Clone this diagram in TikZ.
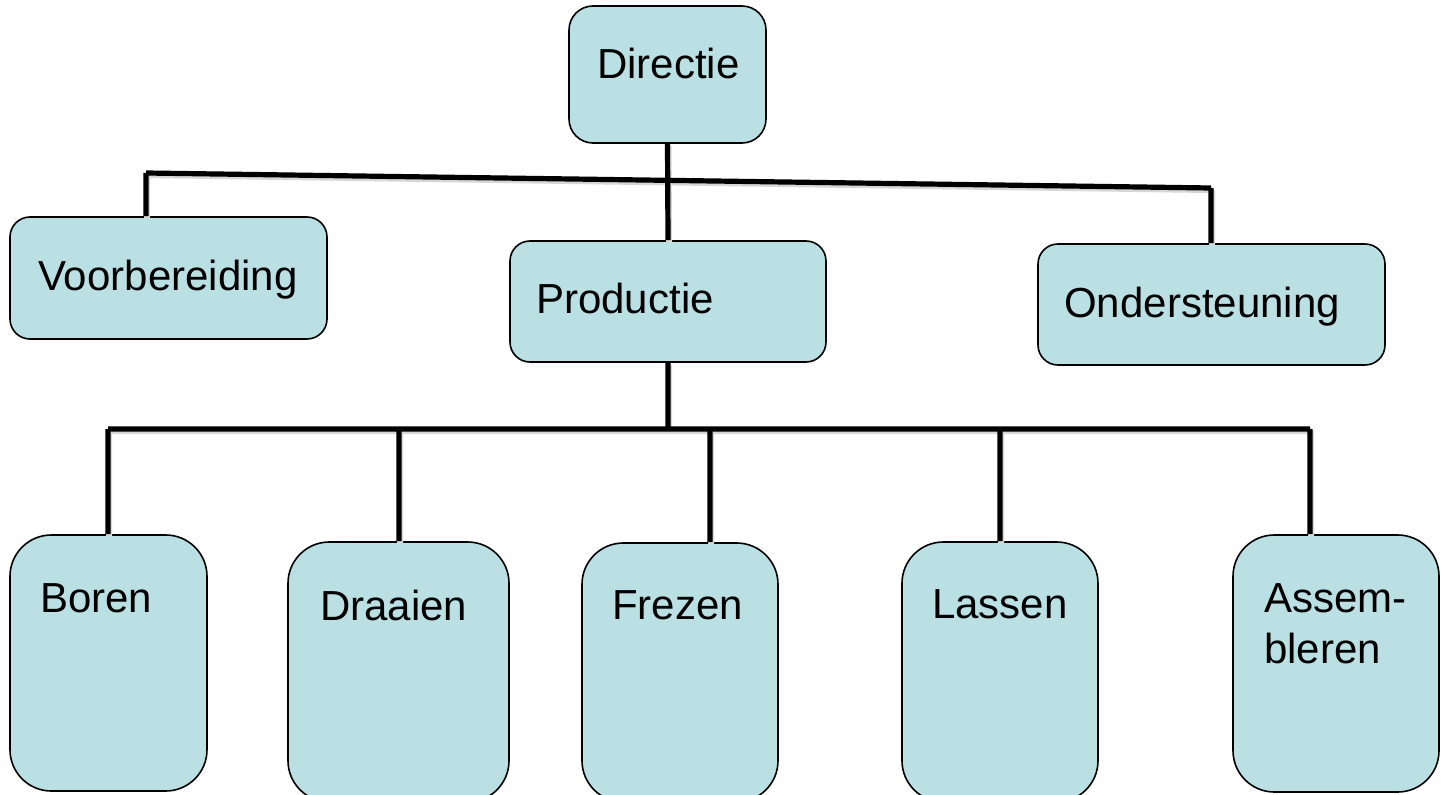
\documentclass[tikz,border=0pt]{standalone}
\usepackage{fontspec}
\setmainfont{Liberation Sans}
\usetikzlibrary{fit}
\definecolor{boxfill}{RGB}{186,224,227}
\tikzset{
  box/.style={draw=black, line width=1.2pt, fill=boxfill, inner sep=0pt},
  boxA/.style={box, rounded corners=18pt},
  boxB/.style={box, rounded corners=15pt},
  boxC/.style={box, rounded corners=31pt},
  lbl/.style={inner sep=0pt, anchor=base west, text=black, font=\fontsize{31.5}{38.25}\selectfont},
  conn/.style={draw=black, line width=3.9pt,
    preaction={draw=black!16, line width=4.4pt, transform canvas={shift={(0.8pt,-1.6pt)}}}},
}
\begin{document}
\begin{tikzpicture}[x=0.75pt, y=-0.75pt]
\useasboundingbox (0,0) rectangle (1441,795);
\clip (0,0) rectangle (1441,795);
\fill[white] (0,0) rectangle (1441,795);

% coordinates for the connector bars
\coordinate (tl) at (146,173);
\coordinate (tr) at (1211,188);
\coordinate (bl) at (108,429);
\coordinate (br) at (1310,429);
\coordinate (bm) at (668,429);
\coordinate (b2) at (399,429);
\coordinate (b3) at (710,429);
\coordinate (b4) at (1000,429);

% boxes
\node[boxA, fit={(569,6) (766,143)}] (dir) {};
\node[boxB, fit={(10,217) (327,339)}] (vb) {};
\node[boxB, fit={(510,241) (826,362)}] (prod) {};
\node[boxB, fit={(1038,244) (1385,365)}] (ond) {};
\node[boxC, fit={(10,535) (207,791)}] (bor) {};
\node[boxC, fit={(288,542) (509,802)}] (dra) {};
\node[boxC, fit={(582,543) (778,802)}] (fre) {};
\node[boxC, fit={(902,542) (1098,802)}] (las) {};
\node[boxC, fit={(1233,535) (1439,792)}] (ass) {};

% connectors
\draw[conn]
  (tl) -- (tr)
  (bl) -- (br)
  (dir.south) -- (prod.north)
  (tl) -- (tl |- vb.north)
  (tr) -- (tr |- ond.north)
  (prod.south) -- (bm)
  (bl) -- (bl |- bor.north)
  (b2) -- (b2 |- dra.north)
  (b3) -- (b3 |- fre.north)
  (b4) -- (b4 |- las.north)
  (br) -- (br |- ass.north);

% labels
\node[lbl] (dir-t) at (597,79) {Directie};
\node[lbl] (vb-t) at (38,290) {Voorbereiding};
\node[lbl] (prod-t) at (536,313) {Productie};
\node[lbl] (ond-t) at (1064,317) {Ondersteuning};
\node[lbl] (bor-t) at (40,612) {Boren};
\node[lbl] (dra-t) at (320,620) {Draaien};
\node[lbl] (fre-t) at (612,619) {Frezen};
\node[lbl] (las-t) at (932,618) {Lassen};
\node[lbl, align=left] (ass-t) at (1264,663) {Assem-\\bleren};
\end{tikzpicture}
\end{document}
